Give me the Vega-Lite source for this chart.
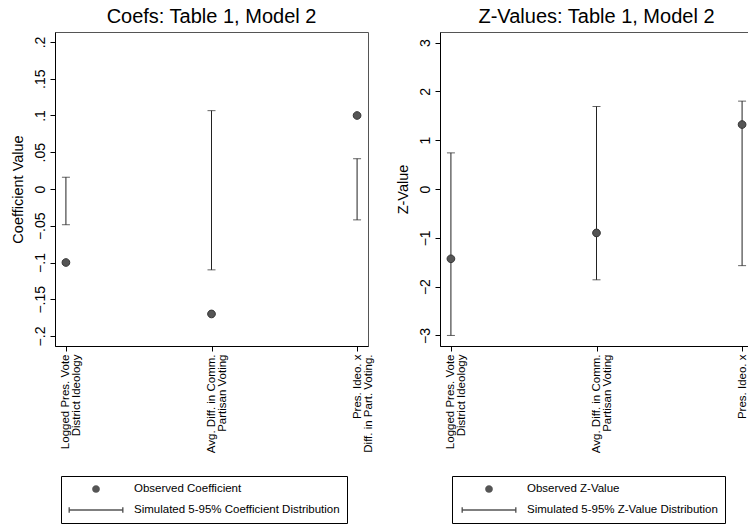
{
  "$schema": "https://vega.github.io/schema/vega-lite/v6.json",
  "padding": {"left": 9, "top": 6, "right": 0, "bottom": 0},
  "background": "white",
  "config": {
    "font": "Liberation Sans",
    "view": {"stroke": "#555", "strokeWidth": 1},
    "axis": {"grid": false, "domainColor": "#000", "tickColor": "#000", "labelColor": "#000", "titleColor": "#000", "labelFont": "Liberation Sans", "titleFont": "Liberation Sans", "titleFontWeight": "normal", "tickSize": 5, "labelPadding": 3, "labelOverlap": false},
    "title": {"fontSize": 20, "fontWeight": "normal", "font": "Liberation Sans", "color": "#000", "offset": 5},
    "concat": {"spacing": 19}
  },
  "datasets": {
    "coef": [
      {"var": "Logged Pres. Vote|District Ideology", "obs": -0.1, "lo": -0.0486, "hi": 0.016},
      {"var": "Avg. Diff. in Comm.|Partisan Voting", "obs": -0.17, "lo": -0.110, "hi": 0.1066},
      {"var": "Pres. Ideo. x|Diff. in Part. Voting.", "obs": 0.1, "lo": -0.042, "hi": 0.0412}
    ],
    "z": [
      {"var": "Logged Pres. Vote|District Ideology", "obs": -1.43, "lo": -3.0, "hi": 0.74},
      {"var": "Avg. Diff. in Comm.|Partisan Voting", "obs": -0.9, "lo": -1.86, "hi": 1.69},
      {"var": "Pres. Ideo. x|Diff. in Part. Voting.", "obs": 1.32, "lo": -1.57, "hi": 1.80}
    ]
  },
  "resolve": {"scale": {"shape": "independent"}, "legend": {"shape": "independent"}},
  "hconcat": [
    {
      "title": {"text": "Coefs: Table 1, Model 2"},
      "width": 313,
      "height": 314,
      "data": {"name": "coef"},
      "layer": [
        {
          "mark": {"type": "errorbar", "ticks": {"size": 8}, "color": "#222", "thickness": 1},
          "encoding": {
            "x": {"field": "var", "type": "nominal", "sort": null, "scale": {"type": "point", "padding": 0.075},
              "axis": {"title": null, "labelAngle": -90, "labelAlign": "right", "labelBaseline": "middle", "labelExpr": "split(datum.label,'|')", "labelFontSize": 11.5, "labelLineHeight": 11, "labelLimit": 300}},
            "y": {"field": "lo", "type": "quantitative", "scale": {"domain": [-0.2136, 0.2136], "nice": false, "zero": false},
              "axis": {"title": "Coefficient Value", "titleFontSize": 14.5, "titlePadding": 8, "values": [-0.2, -0.15, -0.1, -0.05, 0, 0.05, 0.1, 0.15, 0.2], "labelExpr": "replace(format(datum.value,'.2~f'),'0.','.')", "labelAngle": -90, "labelAlign": "center", "labelBaseline": "bottom", "labelFontSize": 14, "labelOverlap": false, "labelBound": false, "labelFlush": false}},
            "y2": {"field": "hi"}
          }
        },
        {
          "mark": {"type": "point", "filled": true, "size": 121, "color": "#555", "stroke": "#333", "strokeWidth": 1, "opacity": 1},
          "encoding": {
            "x": {"field": "var", "type": "nominal", "sort": null,
              "axis": {"title": null, "labelAngle": -90, "labelAlign": "right", "labelBaseline": "middle", "labelExpr": "split(datum.label,'|')", "labelFontSize": 11.5, "labelLineHeight": 11, "labelLimit": 300}},
            "y": {"field": "obs", "type": "quantitative",
              "axis": {"title": "Coefficient Value", "titleFontSize": 14.5, "titlePadding": 8, "values": [-0.2, -0.15, -0.1, -0.05, 0, 0.05, 0.1, 0.15, 0.2], "labelExpr": "replace(format(datum.value,'.2~f'),'0.','.')", "labelAngle": -90, "labelAlign": "center", "labelBaseline": "bottom", "labelFontSize": 14, "labelOverlap": false, "labelBound": false, "labelFlush": false}},
            "shape": {"datum": "Observed Coefficient",
              "scale": {"domain": ["Observed Coefficient", "Simulated 5-95% Coefficient Distribution"], "range": ["M-0.7,0A0.7,0.7 0 1,0 0.7,0A0.7,0.7 0 1,0 -0.7,0Z", "M-5,-0.12H5V0.12H-5Z M-5,-0.5H-4.75V0.5H-5Z M4.75,-0.5H5V0.5H4.75Z"]},
              "legend": {"orient": "none", "legendX": 6, "legendY": 444, "title": null, "symbolSize": 121, "symbolOffset": 22, "labelOffset": 32, "padding": 7, "rowPadding": 9, "strokeColor": "#000", "labelFontSize": 11.5, "labelFont": "Liberation Sans", "labelColor": "#000", "labelLimit": 400,
                "symbolFillColor": "#222", "symbolStrokeColor": "#222", "symbolStrokeWidth": 0.5,
                "encode": {"symbols": {"update": {"fill": {"value": "#222"}, "stroke": {"value": "#222"}, "opacity": {"value": 1}}}}}
            }
          }
        }
      ]
    },
    {
      "title": {"text": "Z-Values: Table 1, Model 2"},
      "width": 313,
      "height": 314,
      "data": {"name": "z"},
      "layer": [
        {
          "mark": {"type": "errorbar", "ticks": {"size": 8}, "color": "#222", "thickness": 1},
          "encoding": {
            "x": {"field": "var", "type": "nominal", "sort": null, "scale": {"type": "point", "padding": 0.075},
              "axis": {"title": null, "labelAngle": -90, "labelAlign": "right", "labelBaseline": "middle", "labelExpr": "split(datum.label,'|')", "labelFontSize": 11.5, "labelLineHeight": 11, "labelLimit": 300}},
            "y": {"field": "lo", "type": "quantitative", "scale": {"domain": [-3.216, 3.216], "nice": false, "zero": false},
              "axis": {"title": "Z-Value", "titleFontSize": 14.5, "titlePadding": 8, "values": [-3, -2, -1, 0, 1, 2, 3], "format": "d", "labelAngle": -90, "labelAlign": "center", "labelBaseline": "bottom", "labelFontSize": 14, "labelOverlap": false, "labelBound": false, "labelFlush": false}},
            "y2": {"field": "hi"}
          }
        },
        {
          "mark": {"type": "point", "filled": true, "size": 121, "color": "#555", "stroke": "#333", "strokeWidth": 1, "opacity": 1},
          "encoding": {
            "x": {"field": "var", "type": "nominal", "sort": null,
              "axis": {"title": null, "labelAngle": -90, "labelAlign": "right", "labelBaseline": "middle", "labelExpr": "split(datum.label,'|')", "labelFontSize": 11.5, "labelLineHeight": 11, "labelLimit": 300}},
            "y": {"field": "obs", "type": "quantitative",
              "axis": {"title": "Z-Value", "titleFontSize": 14.5, "titlePadding": 8, "values": [-3, -2, -1, 0, 1, 2, 3], "format": "d", "labelAngle": -90, "labelAlign": "center", "labelBaseline": "bottom", "labelFontSize": 14, "labelOverlap": false, "labelBound": false, "labelFlush": false}},
            "shape": {"datum": "Observed Z-Value",
              "scale": {"domain": ["Observed Z-Value", "Simulated 5-95% Z-Value Distribution"], "range": ["M-0.7,0A0.7,0.7 0 1,0 0.7,0A0.7,0.7 0 1,0 -0.7,0Z", "M-5,-0.12H5V0.12H-5Z M-5,-0.5H-4.75V0.5H-5Z M4.75,-0.5H5V0.5H4.75Z"]},
              "legend": {"orient": "none", "legendX": 12, "legendY": 444, "title": null, "symbolSize": 121, "symbolOffset": 24, "labelOffset": 32, "padding": 7, "rowPadding": 9, "strokeColor": "#000", "labelFontSize": 11.5, "labelFont": "Liberation Sans", "labelColor": "#000", "labelLimit": 400,
                "symbolFillColor": "#222", "symbolStrokeColor": "#222", "symbolStrokeWidth": 0.5,
                "encode": {"symbols": {"update": {"fill": {"value": "#222"}, "stroke": {"value": "#222"}, "opacity": {"value": 1}}}}}
            }
          }
        }
      ]
    }
  ]
}
